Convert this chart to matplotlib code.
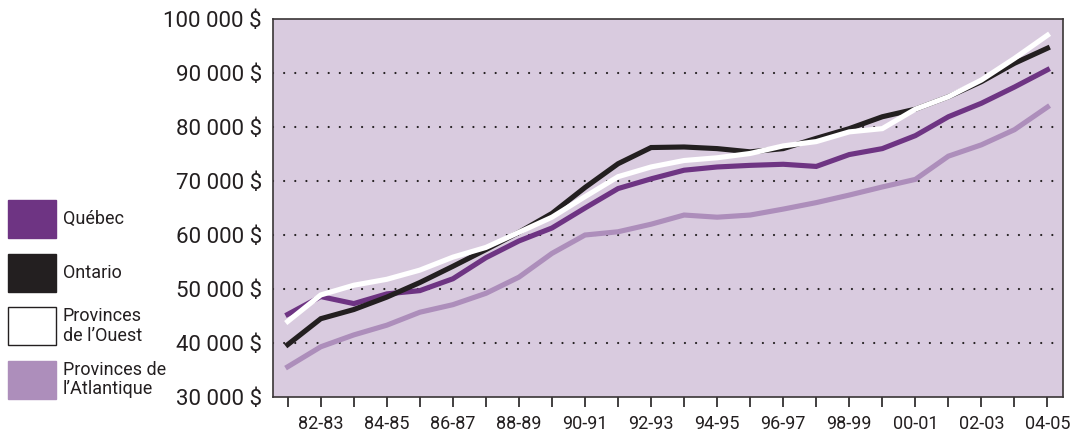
import matplotlib
matplotlib.use("Agg")
import matplotlib.pyplot as plt
from matplotlib.patches import Rectangle
from matplotlib.ticker import FuncFormatter

plt.rcParams['font.family'] = ['Roboto', 'Liberation Sans', 'DejaVu Sans']

# données
annees = ['81-82', '82-83', '83-84', '84-85', '85-86', '86-87', '87-88', '88-89',
          '89-90', '90-91', '91-92', '92-93', '93-94', '94-95', '95-96', '96-97',
          '97-98', '98-99', '99-00', '00-01', '01-02', '02-03', '03-04', '04-05']
quebec = [45300, 48600, 47300, 49100, 49700, 51900, 55800, 58900, 61300, 65000, 68600, 70400,
          72000, 72600, 72900, 73100, 72700, 74900, 76000, 78400, 81900, 84400, 87400, 90600]
ontario = [39700, 44500, 46200, 48500, 51200, 54200, 57300, 60500, 64000, 68800, 73200, 76200,
           76300, 76000, 75400, 76000, 77900, 79700, 81900, 83300, 85600, 88400, 91800, 94600]
ouest = [44000, 48900, 50700, 51800, 53500, 55900, 57700, 60500, 63300, 67100, 70800, 72600,
         73800, 74300, 75100, 76500, 77300, 79100, 79700, 83300, 85600, 88700, 92700, 97000]
atlantique = [35600, 39300, 41500, 43300, 45700, 47100, 49200, 52200, 56600, 60000, 60600, 62000,
              63700, 63300, 63700, 64800, 66000, 67400, 68900, 70300, 74600, 76700, 79500, 83700]

noms = ["Québec", "Ontario", "Provinces\nde l\u2019Ouest", "Provinces de\nl\u2019Atlantique"]
couleurs = ["#6e3483", "#231f20", "#ffffff", "#ad8ebb"]
series = [quebec, ontario, ouest, atlantique]

txt = "#231f20"
fig = plt.figure(figsize=(10.72, 4.37), dpi=100)
ax = fig.add_axes([0.2547, 0.0915, 0.7369, 0.865])
ax.set_facecolor("#d9cbdf")

x = list(range(len(annees)))
# ordre de dessin : Atlantique, Québec, Ontario, Ouest
for i in [3, 0, 1, 2]:
    ax.plot(x, series[i], color=couleurs[i], linewidth=3.7, solid_joinstyle='miter', zorder=3 + i)

for v in range(40000, 100000, 10000):
    ax.axhline(v, color=txt, linewidth=1.6, linestyle=(0, (0.01, 5.0)),
               dash_capstyle='round', zorder=2)

ax.set_xlim(-0.445, 23.47)
ax.set_ylim(30000, 100000)
ax.set_yticks(range(30000, 100001, 10000))
ax.yaxis.set_major_formatter(FuncFormatter(lambda v, p: "{:,}".format(int(v)).replace(",", " ") + " $"))
ax.set_xticks(x)
ax.set_xticklabels([a if i % 2 == 1 else "" for i, a in enumerate(annees)])
ax.tick_params(axis='y', length=0, pad=8, labelsize=16, labelcolor=txt)
ax.tick_params(axis='x', length=7, width=1.2, color=txt, pad=6, labelsize=13, labelcolor=txt)
for s in ax.spines.values():
    s.set_color("#3a3536")
    s.set_linewidth(1.2)

# légende à gauche
W, H = 1072.0, 437.0
for i, nom in enumerate(noms):
    top = 200 + i * 53.5
    fig.add_artist(Rectangle((8 / W, 1 - (top + 38) / H), 48 / W, 38 / H,
                             facecolor=couleurs[i], edgecolor=txt if i == 2 else couleurs[i],
                             linewidth=1.0, transform=fig.transFigure))
    fig.text(63 / W, 1 - (top + 19) / H, nom, ha='left', va='center', fontsize=13,
             color=txt, linespacing=1.1)

fig.savefig("out.png", dpi=100)
